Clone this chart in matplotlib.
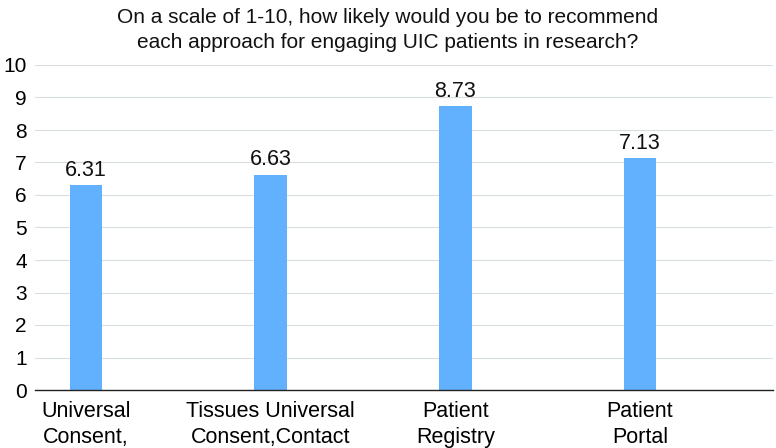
import matplotlib.pyplot as plt
import numpy as np

plt.rcParams['font.family'] = ['Liberation Sans', 'DejaVu Sans']

categories = ['Universal\nConsent,', 'Tissues Universal\nConsent,Contact',
              'Patient\nRegistry', 'Patient\nPortal']
scores = [6.31, 6.63, 8.73, 7.13]
yticks = list(range(0, 11))

fig = plt.figure(figsize=(7.76, 4.48), dpi=100)
ax = fig.add_axes([35 / 776, 58 / 448, 738 / 776, 325 / 448])

x = np.arange(len(categories))
bars = ax.bar(x, scores, width=0.175, color='#62B1FF', zorder=3)
for b, v in zip(bars, scores):
    ax.annotate(f'{v:.2f}', (b.get_x() + b.get_width() / 2, v),
                xytext=(0, 3), textcoords='offset points',
                ha='center', va='bottom', fontsize=15.5, color='#111111')

ax.set_xlim(-0.276, 3.72)
ax.set_ylim(0, 10)
ax.set_yticks(yticks)
ax.set_xticks(x)
ax.set_xticklabels(categories, fontsize=15.5, linespacing=1.3)
ax.tick_params(axis='y', length=0, pad=6, labelsize=15)
ax.tick_params(axis='x', length=0, pad=8)
ax.grid(axis='y', color='#DADDE0', linewidth=0.8, zorder=0)

for s in ['left', 'right', 'top']:
    ax.spines[s].set_visible(False)
ax.spines['bottom'].set_color('#222222')
ax.spines['bottom'].set_linewidth(1.0)
ax.spines['bottom'].set_zorder(4)

fig.text(388 / 776, 1 - 30 / 448,
         'On a scale of 1-10, how likely would you be to recommend\n'
         'each approach for engaging UIC patients in research?',
         ha='center', va='center', fontsize=15, linespacing=1.4, color='#111111')

fig.savefig('out.png', dpi=100)
